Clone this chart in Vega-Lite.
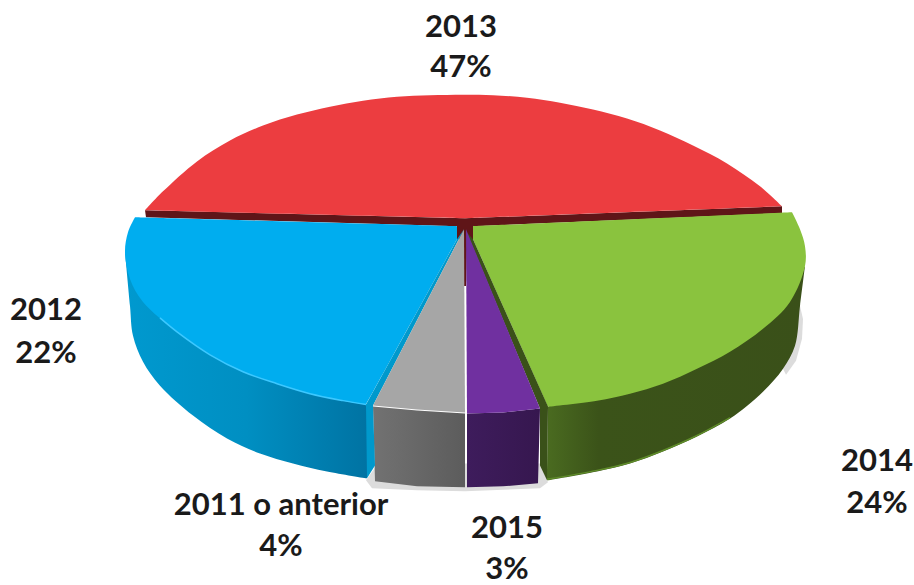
{"$schema":"https://vega.github.io/schema/vega-lite/v6.json","width":914,"height":585,"autosize":{"type":"fit","contains":"padding"},"padding":0,"background":"white","view":{"stroke":null},
"resolve":{"scale":{"color":"independent"}},
"datasets":{"sides":[
{"p":"blueSide","i":0,"x":125,"y":253},{"p":"blueSide","i":1,"x":125,"y":253},{"p":"blueSide","i":2,"x":130,"y":307},{"p":"blueSide","i":3,"x":133,"y":337},{"p":"blueSide","i":4,"x":143,"y":363},{"p":"blueSide","i":5,"x":160,"y":387},{"p":"blueSide","i":6,"x":193,"y":417},{"p":"blueSide","i":7,"x":227,"y":440},{"p":"blueSide","i":8,"x":260,"y":455},{"p":"blueSide","i":9,"x":293,"y":465},{"p":"blueSide","i":10,"x":327,"y":473},{"p":"blueSide","i":11,"x":367,"y":480},{"p":"blueSide","i":12,"x":367,"y":480},{"p":"blueSide","i":13,"x":367,"y":406},{"p":"blueSide","i":14,"x":367,"y":406},{"p":"blueSide","i":15,"x":310,"y":390},{"p":"blueSide","i":16,"x":210,"y":350},{"p":"blueSide","i":17,"x":143,"y":295}],
"greySide":[
{"p":"greySide","i":0,"x":373,"y":408},{"p":"greySide","i":1,"x":417,"y":412},{"p":"greySide","i":2,"x":465,"y":415},{"p":"greySide","i":3,"x":465,"y":489},{"p":"greySide","i":4,"x":417,"y":488},{"p":"greySide","i":5,"x":375,"y":483}],
"greenSide":[
{"p":"greenSide","i":0,"x":548,"y":408},{"p":"greenSide","i":1,"x":548,"y":408},{"p":"greenSide","i":2,"x":547,"y":482},{"p":"greenSide","i":3,"x":547,"y":482},{"p":"greenSide","i":4,"x":597,"y":473},{"p":"greenSide","i":5,"x":630,"y":465},{"p":"greenSide","i":6,"x":663,"y":453},{"p":"greenSide","i":7,"x":697,"y":438},{"p":"greenSide","i":8,"x":730,"y":420},{"p":"greenSide","i":9,"x":763,"y":393},{"p":"greenSide","i":10,"x":783,"y":370},{"p":"greenSide","i":11,"x":795,"y":347},{"p":"greenSide","i":12,"x":800,"y":307},{"p":"greenSide","i":13,"x":805,"y":267},{"p":"greenSide","i":14,"x":805,"y":267},{"p":"greenSide","i":15,"x":763,"y":320},{"p":"greenSide","i":16,"x":663,"y":375}],
"purpleSide":[
{"p":"purpleSide","i":0,"x":467,"y":415},{"p":"purpleSide","i":1,"x":503,"y":414},{"p":"purpleSide","i":2,"x":540,"y":410},{"p":"purpleSide","i":3,"x":538,"y":485},{"p":"purpleSide","i":4,"x":503,"y":488},{"p":"purpleSide","i":5,"x":467,"y":489}],
"flat":[
{"p":"c redDark","i":0,"x":145,"y":211},{"p":"c redDark","i":1,"x":465,"y":219},{"p":"c redDark","i":2,"x":782,"y":207},{"p":"c redDark","i":3,"x":782,"y":214},{"p":"c redDark","i":4,"x":473,"y":227},{"p":"c redDark","i":5,"x":473,"y":242},{"p":"c redDark","i":6,"x":467,"y":250},{"p":"c redDark","i":7,"x":466,"y":287},{"p":"c redDark","i":8,"x":463,"y":287},{"p":"c redDark","i":9,"x":463,"y":240},{"p":"c redDark","i":10,"x":457,"y":240},{"p":"c redDark","i":11,"x":457,"y":227},{"p":"c redDark","i":12,"x":146,"y":218},
{"p":"e blueWall","i":0,"x":366,"y":406},{"p":"e blueWall","i":1,"x":457,"y":240},{"p":"e blueWall","i":2,"x":464,"y":230},{"p":"e blueWall","i":3,"x":373,"y":407},{"p":"e blueWall","i":4,"x":375,"y":467},{"p":"e blueWall","i":5,"x":367,"y":480},
{"p":"g greenWall","i":0,"x":473,"y":240},{"p":"g greenWall","i":1,"x":548,"y":408},{"p":"g greenWall","i":2,"x":547,"y":482},{"p":"g greenWall","i":3,"x":540,"y":467},{"p":"g greenWall","i":4,"x":540,"y":410},{"p":"g greenWall","i":5,"x":466,"y":232},
{"p":"i greyTop","i":0,"x":464,"y":230},{"p":"i greyTop","i":1,"x":465,"y":414},{"p":"i greyTop","i":2,"x":417,"y":411},{"p":"i greyTop","i":3,"x":373,"y":407},
{"p":"j purpleTop","i":0,"x":466,"y":230},{"p":"j purpleTop","i":1,"x":540,"y":410},{"p":"j purpleTop","i":2,"x":503,"y":414},{"p":"j purpleTop","i":3,"x":467,"y":415}],
"curved":[
{"p":"d red","i":0,"x":145,"y":211},{"p":"d red","i":1,"x":145,"y":211},{"p":"d red","i":2,"x":163,"y":192},{"p":"d red","i":3,"x":197,"y":162},{"p":"d red","i":4,"x":230,"y":141},{"p":"d red","i":5,"x":263,"y":126},{"p":"d red","i":6,"x":297,"y":115},{"p":"d red","i":7,"x":330,"y":107},{"p":"d red","i":8,"x":363,"y":101},{"p":"d red","i":9,"x":397,"y":97},{"p":"d red","i":10,"x":430,"y":95.5},{"p":"d red","i":11,"x":465,"y":95},{"p":"d red","i":12,"x":493,"y":95.5},{"p":"d red","i":13,"x":527,"y":98},{"p":"d red","i":14,"x":560,"y":103},{"p":"d red","i":15,"x":593,"y":110},{"p":"d red","i":16,"x":627,"y":119},{"p":"d red","i":17,"x":660,"y":131},{"p":"d red","i":18,"x":693,"y":146},{"p":"d red","i":19,"x":727,"y":164},{"p":"d red","i":20,"x":760,"y":187},{"p":"d red","i":21,"x":782,"y":207},{"p":"d red","i":22,"x":782,"y":207},{"p":"d red","i":23,"x":465,"y":219},{"p":"d red","i":24,"x":465,"y":219},{"p":"d red","i":25,"x":145,"y":211},
{"p":"f blueTop","i":0,"x":135,"y":218},{"p":"f blueTop","i":1,"x":135,"y":218},{"p":"f blueTop","i":2,"x":128,"y":233},{"p":"f blueTop","i":3,"x":125,"y":253},{"p":"f blueTop","i":4,"x":130,"y":280},{"p":"f blueTop","i":5,"x":143,"y":303},{"p":"f blueTop","i":6,"x":177,"y":333},{"p":"f blueTop","i":7,"x":210,"y":356},{"p":"f blueTop","i":8,"x":243,"y":373},{"p":"f blueTop","i":9,"x":277,"y":385},{"p":"f blueTop","i":10,"x":310,"y":395},{"p":"f blueTop","i":11,"x":343,"y":402},{"p":"f blueTop","i":12,"x":366,"y":406},{"p":"f blueTop","i":13,"x":366,"y":406},{"p":"f blueTop","i":14,"x":457,"y":240},{"p":"f blueTop","i":15,"x":457,"y":240},{"p":"f blueTop","i":16,"x":457,"y":227},{"p":"f blueTop","i":17,"x":457,"y":227},{"p":"f blueTop","i":18,"x":135,"y":218},
{"p":"h greenTop","i":0,"x":473,"y":227},{"p":"h greenTop","i":1,"x":473,"y":227},{"p":"h greenTop","i":2,"x":792,"y":213},{"p":"h greenTop","i":3,"x":792,"y":213},{"p":"h greenTop","i":4,"x":800,"y":230},{"p":"h greenTop","i":5,"x":805,"y":247},{"p":"h greenTop","i":6,"x":805,"y":267},{"p":"h greenTop","i":7,"x":790,"y":303},{"p":"h greenTop","i":8,"x":763,"y":330},{"p":"h greenTop","i":9,"x":730,"y":353},{"p":"h greenTop","i":10,"x":697,"y":370},{"p":"h greenTop","i":11,"x":663,"y":385},{"p":"h greenTop","i":12,"x":630,"y":395},{"p":"h greenTop","i":13,"x":597,"y":402},{"p":"h greenTop","i":14,"x":548,"y":408},{"p":"h greenTop","i":15,"x":548,"y":408},{"p":"h greenTop","i":16,"x":473,"y":240},{"p":"h greenTop","i":17,"x":473,"y":240},{"p":"h greenTop","i":18,"x":473,"y":227}],
"shadow":[
{"p":"shadow","i":0,"x":366,"y":482},{"p":"shadow","i":1,"x":372,"y":490},{"p":"shadow","i":2,"x":417,"y":492},{"p":"shadow","i":3,"x":465,"y":493},{"p":"shadow","i":4,"x":540,"y":490},{"p":"shadow","i":5,"x":548,"y":484},{"p":"shadow","i":6,"x":540,"y":465},{"p":"shadow","i":7,"x":378,"y":465},
{"p":"shadow2","i":0,"x":800,"y":307},{"p":"shadow2","i":1,"x":803,"y":320},{"p":"shadow2","i":2,"x":802,"y":340},{"p":"shadow2","i":3,"x":796,"y":362},{"p":"shadow2","i":4,"x":786,"y":376},{"p":"shadow2","i":5,"x":783,"y":370}],
"rims":[
{"p":"blue","i":0,"x":160,"y":319},{"p":"blue","i":1,"x":177,"y":333},{"p":"blue","i":2,"x":210,"y":356},{"p":"blue","i":3,"x":243,"y":373},{"p":"blue","i":4,"x":277,"y":385},{"p":"blue","i":5,"x":310,"y":395},{"p":"blue","i":6,"x":343,"y":402},{"p":"blue","i":7,"x":366,"y":406},
{"p":"green","i":0,"x":547,"y":481},{"p":"green","i":1,"x":597,"y":472},{"p":"green","i":2,"x":630,"y":464},{"p":"green","i":3,"x":663,"y":452},{"p":"green","i":4,"x":697,"y":437},{"p":"green","i":5,"x":730,"y":419}],
"labels":[
{"t":"2013","x":461,"y":28},{"t":"47%","x":461,"y":68},{"t":"2012","x":46,"y":312},{"t":"22%","x":46,"y":355},{"t":"2014","x":877,"y":464},{"t":"24%","x":877,"y":506},{"t":"2011 o anterior","x":281,"y":508},{"t":"4%","x":281,"y":549},{"t":"2015","x":507,"y":531},{"t":"3%","x":507,"y":572}]},
"encoding":{"x":{"field":"x","type":"quantitative","scale":{"domain":[0,914],"nice":false,"zero":false},"axis":null},"y":{"field":"y","type":"quantitative","scale":{"domain":[585,0],"nice":false,"zero":false},"axis":null}},
"layer":[
{"data":{"name":"shadow"},"mark":{"type":"line","filled":true,"strokeWidth":0,"fill":"#dcdcdc"},"encoding":{"order":{"field":"i"},"detail":{"field":"p"}}},
{"data":{"name":"sides"},"mark":{"type":"line","filled":true,"strokeWidth":0,"interpolate":"catmull-rom","fill":{"gradient":"linear","x1":0,"x2":1,"y1":0,"y2":0,"stops":[{"offset":0,"color":"#0099cf"},{"offset":0.5,"color":"#008fc2"},{"offset":1,"color":"#0073a3"}]}},"encoding":{"order":{"field":"i"}}},
{"data":{"name":"greenSide"},"mark":{"type":"line","filled":true,"strokeWidth":0,"interpolate":"catmull-rom","fill":{"gradient":"linear","x1":0,"x2":1,"y1":0,"y2":0,"stops":[{"offset":0,"color":"#4a6b20"},{"offset":0.2,"color":"#3b5319"},{"offset":1,"color":"#3a5019"}]}},"encoding":{"order":{"field":"i"}}},
{"data":{"name":"greySide"},"mark":{"type":"line","filled":true,"strokeWidth":0,"fill":{"gradient":"linear","x1":0,"x2":1,"y1":0,"y2":0,"stops":[{"offset":0,"color":"#727272"},{"offset":1,"color":"#5c5c5c"}]}},"encoding":{"order":{"field":"i"}}},
{"data":{"name":"purpleSide"},"mark":{"type":"line","filled":true,"strokeWidth":0,"fill":{"gradient":"linear","x1":0,"x2":1,"y1":0,"y2":0,"stops":[{"offset":0,"color":"#3e1c5c"},{"offset":1,"color":"#36174f"}]}},"encoding":{"order":{"field":"i"}}},
{"data":{"name":"flat"},"transform":[{"filter":"datum.p=='c redDark'"}],"mark":{"type":"line","filled":true,"strokeWidth":0,"fill":"#5f1518"},"encoding":{"order":{"field":"i"}}},
{"data":{"name":"curved"},"mark":{"type":"line","filled":true,"strokeWidth":0,"interpolate":"catmull-rom"},"encoding":{"order":{"field":"i"},"color":{"field":"p","type":"nominal","scale":{"domain":["d red","f blueTop","h greenTop"],"range":["#ec3d40","#00adef","#8ac33e"]},"legend":null}}},
{"data":{"name":"flat"},"transform":[{"filter":"datum.p!='c redDark'"}],"mark":{"type":"line","filled":true,"strokeWidth":0},"encoding":{"order":{"field":"i"},"color":{"field":"p","type":"nominal","scale":{"domain":["e blueWall","g greenWall","i greyTop","j purpleTop"],"range":["#0099cc","#3a5119","#a6a6a6","#7030a0"]},"legend":null}}},
{"data":{"name":"rims"},"mark":{"type":"line","interpolate":"catmull-rom","strokeWidth":1.5},"encoding":{"order":{"field":"i"},"color":{"field":"p","type":"nominal","scale":{"domain":["blue","green"],"range":["#3cc8ff","#5f8c2a"]},"legend":null}}},
{"data":{"name":"labels"},"mark":{"type":"text","font":"Lato","fontWeight":"bold","fontSize":31,"align":"center","baseline":"middle","color":"#1a1a1a"},"encoding":{"text":{"field":"t","type":"nominal"}}}
]}
